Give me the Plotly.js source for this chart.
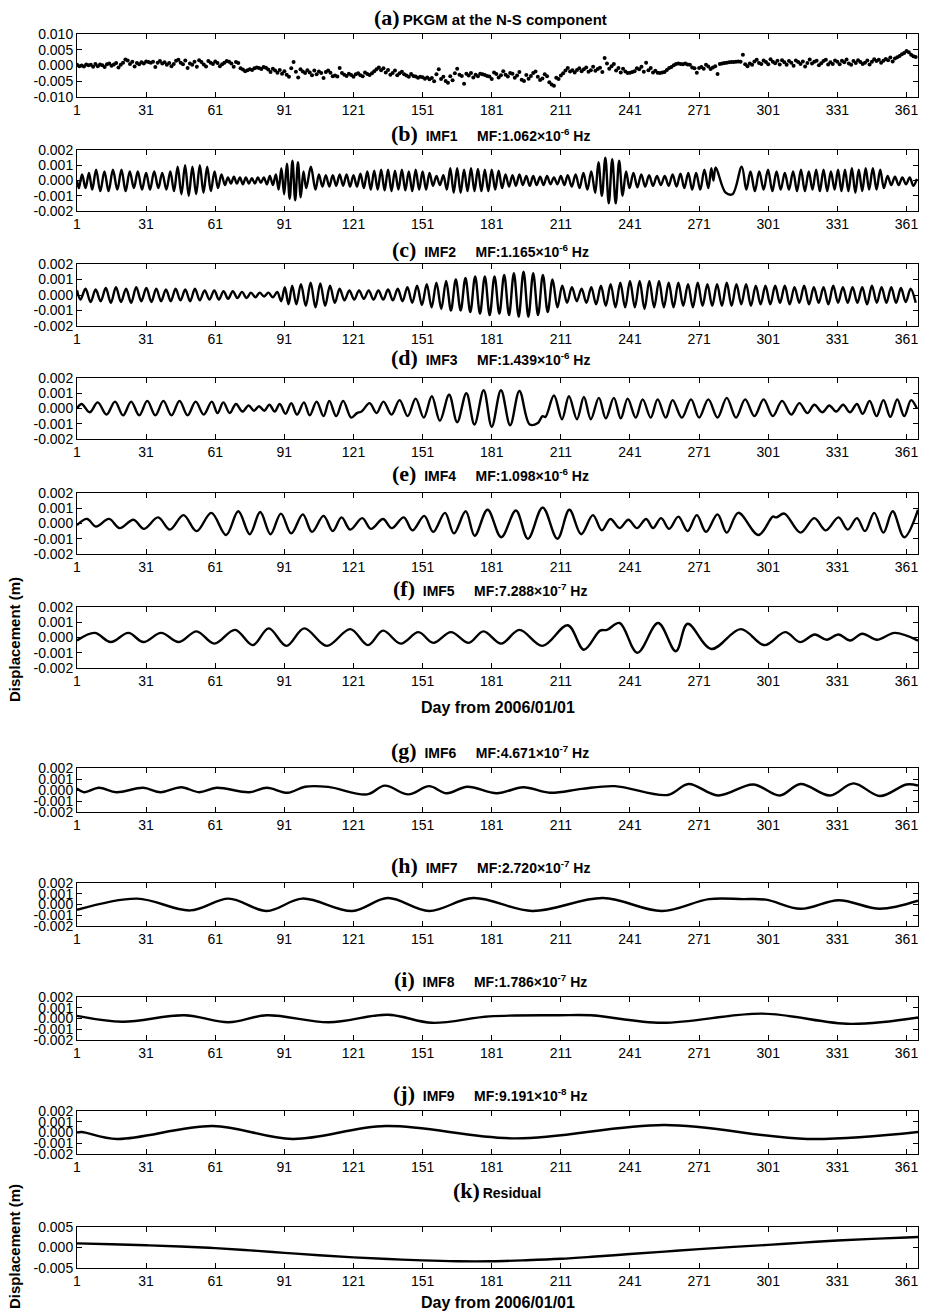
<!DOCTYPE html>
<html><head><meta charset="utf-8">
<script src="https://cdn.plot.ly/plotly-3.0.1.min.js"></script>
<style>html,body{margin:0;padding:0;background:#fff}#chart{width:925px;height:1316px}</style>
</head><body><div id="chart"></div>
<script>
// ---------- tick labels ----------
const xTickVals = [1,31,61,91,121,151,181,211,241,271,301,331,361];
const yTickSmallVals = [-0.002,-0.001,0,0.001,0.002];
const yTickSmallText = ['-0.002','-0.001','0.000','0.001','0.002'];
const yTickAVals = [-0.010,-0.005,0,0.005,0.010];
const yTickAText = ['-0.010','-0.005','0.000','0.005','0.010'];
const yTickKVals = [-0.005,0,0.005];
const yTickKText = ['-0.005','0.000','0.005'];

// ---------- panel titles ----------
const panelLabels = ['(a)','(b)','(c)','(d)','(e)','(f)','(g)','(h)','(i)','(j)','(k)'];
const panelTexts = [
  'PKGM at the N-S component',
  'IMF1     MF:1.062×10<sup>-6</sup> Hz',
  'IMF2     MF:1.165×10<sup>-6</sup> Hz',
  'IMF3     MF:1.439×10<sup>-6</sup> Hz',
  'IMF4     MF:1.098×10<sup>-6</sup> Hz',
  'IMF5     MF:7.288×10<sup>-7</sup> Hz',
  'IMF6     MF:4.671×10<sup>-7</sup> Hz',
  'IMF7     MF:2.720×10<sup>-7</sup> Hz',
  'IMF8     MF:1.786×10<sup>-7</sup> Hz',
  'IMF9     MF:9.191×10<sup>-8</sup> Hz',
  'Residual'
];
const xAxisLabel = 'Day from 2006/01/01';
const yAxisLabel = 'Displacement (m)';

// ---------- data (values in mm, converted to m) ----------
// (a) daily PKGM N-S displacement, day 1..365
const pkgmMm = [
0.2,-0.2,0.0,-0.3,0.3,0.1,0.2,-0.4,0.5,-0.2,0.3,0.1,-0.5,0.4,0.6,-0.1,0.3,0.8,-0.6,0.2,0.9,1.9,1.6,0.5,1.2,-0.3,0.8,0.4,1.0,0.6,
1.3,1.1,0.9,1.2,-0.5,0.9,1.4,0.6,1.0,0.2,0.8,-0.2,0.5,1.5,1.8,0.9,0.4,1.6,-0.8,0.6,0.2,1.2,-0.4,1.7,1.1,0.3,-0.3,1.4,0.9,0.5,
1.3,0.8,-0.2,0.4,0.9,1.4,1.2,0.6,-0.4,1.1,0.8,-0.9,-1.3,-1.8,-1.5,-1.2,-1.4,-0.9,-0.6,-0.8,-1.1,-0.5,-0.7,-1.3,-2.1,-1.0,-1.6,-2.3,-1.4,-2.6,
-1.8,-2.9,-3.6,-0.9,1.1,-2.0,-3.8,-1.2,-1.9,-2.4,-1.5,-2.2,-3.1,-1.6,-2.8,-1.9,-2.4,-4.0,-2.1,-1.6,-2.3,-3.4,-3.2,-3.5,-0.8,-2.4,-2.9,-3.3,-2.6,-3.0,
-3.6,-2.8,-2.5,-3.1,-3.4,-2.2,-2.7,-3.0,-2.5,-1.8,-1.2,-0.6,-1.5,-0.9,-2.2,-1.4,-2.9,-2.4,-1.6,-3.1,-2.5,-2.0,-2.8,-3.2,-3.6,-2.7,-3.3,-3.5,-3.9,-3.6,
-3.7,-4.2,-3.8,-4.4,-4.0,-5.0,-2.8,-1.2,-4.3,-3.6,-4.9,-5.5,-3.4,-4.7,-2.5,-1.0,-2.9,-3.3,-5.8,-2.6,-3.2,-2.4,-3.8,-2.9,-3.4,-2.6,-2.8,-3.0,-3.3,-3.5,
-4.3,-2.2,-2.7,-3.8,-3.1,-1.8,-2.9,-3.5,-2.4,-2.6,-3.9,-3.2,-2.1,-4.5,-4.9,-3.0,-4.2,-3.3,-2.4,-1.9,-3.6,-4.6,-4.1,-2.8,-3.4,-5.3,-6.0,-6.4,-3.9,-4.3,
-3.2,-2.5,-1.6,-0.8,-1.9,-1.5,-2.2,-1.4,-0.9,-1.8,-1.2,-0.6,-2.0,-1.5,-0.4,-1.7,-1.1,-0.7,-2.1,2.4,0.6,-1.0,-0.2,0.5,-1.6,-0.8,-2.2,-1.0,-1.9,-2.4,
-2.3,-2.1,-1.8,-0.9,-1.2,-0.4,-2.0,0.9,-1.5,-0.8,-2.2,-1.7,-2.3,-2.4,-2.2,-2.1,-1.4,-0.8,-0.5,0.1,0.5,0.6,0.5,0.4,0.6,0.3,0.2,-0.6,-0.9,-2.3,
-0.8,-0.5,-1.0,0.2,-0.3,-1.1,-0.6,-0.2,-2.7,0.5,0.6,0.8,0.9,1.0,1.1,1.1,1.2,1.3,1.2,3.4,0.4,-0.2,0.6,0.2,1.3,1.8,0.8,0.5,1.6,1.1,
0.4,2.0,1.2,0.7,1.5,0.3,1.7,1.0,0.2,1.4,0.9,-0.1,1.6,1.1,0.5,1.3,-0.3,0.8,1.9,0.6,1.2,1.5,0.1,0.7,1.4,1.8,0.3,1.0,0.5,1.6,
1.2,0.4,1.5,1.0,1.9,0.6,0.2,1.4,0.8,1.7,1.1,0.5,0.9,1.6,0.3,1.2,2.0,1.4,1.8,0.9,1.5,2.1,1.7,2.5,1.3,2.2,2.6,3.0,3.6,4.0,4.6,4.2,3.4,2.9,2.7
];

// IMF extrema: [day, mm]
const imf1 = [[1,0.0],[1.8,-0.5],[3.2,0.4],[4.7,-0.5],[6.2,0.5],[7.6,-0.6],[9.3,0.7],[11.1,-0.7],[12.9,0.6],[14.7,-0.7],[16.6,0.7],[18.5,-0.6],[20.3,0.7],[22.1,-0.7],[23.9,0.6],[25.7,-0.5],[27.4,0.6],[29.2,-0.6],[31.0,0.5],[32.7,-0.6],[34.5,0.6],[36.3,-0.5],[38.0,0.5],[39.8,-0.6],[41.5,0.6],[43.1,-0.7],[44.7,0.9],[46.3,-0.9],[47.9,1.0],[49.5,-1.0],[51.1,0.9],[52.7,-0.9],[54.3,1.0],[55.9,-0.8],[57.5,0.9],[59.1,-0.7],[60.7,0.6],[62.2,-0.5],[63.7,0.4],[65.2,-0.3],[66.5,0.2],[67.8,-0.2],[69.1,0.25],[70.4,-0.2],[71.7,0.2],[73.0,-0.25],[74.3,0.2],[75.6,-0.2],[76.9,0.15],[78.2,-0.2],[79.5,0.2],[80.8,-0.15],[82.1,0.2],[83.4,-0.25],[84.7,0.3],[86.0,-0.3],[87.3,0.4],[88.5,-0.6],[89.7,0.8],[90.9,-0.9],[92.1,1.1],[93.3,-1.2],[94.5,1.3],[95.7,-1.3],[96.9,1.2],[98.1,-1.1],[99.3,0.6],[100.5,-0.5],[102.5,0.9],[104.5,-0.6],
[106.0,0.4],[107.5,-0.4],[109.0,0.35],[110.5,-0.4],[112.0,0.35],[113.5,-0.35],[115.0,0.4],[116.5,-0.35],[118.0,0.4],[119.5,-0.4],[121.0,0.35],[122.5,-0.4],[124.0,0.45],[125.5,-0.5],[127.0,0.6],[128.5,-0.6],[130.0,0.65],[131.5,-0.6],[133.0,0.7],[134.5,-0.65],[136.0,0.7],[137.5,-0.7],[139.0,0.65],[140.5,-0.6],[142.0,0.7],[143.5,-0.65],[145.0,0.6],[146.5,-0.7],[148.0,0.7],[149.5,-0.6],[151.0,0.6],[152.5,-0.6],[154.0,0.5],[155.5,-0.35],[157.0,0.3],[158.5,-0.3],[160.0,0.35],[161.5,-0.6],[163.0,0.8],[164.5,-0.8],[166.0,0.8],[167.5,-0.8],[169.0,0.7],[170.5,-0.7],[172.0,0.8],[173.5,-0.7],[175.0,0.75],[176.5,-0.7],[178.0,0.7],[179.5,-0.7],[181.0,0.7],[182.5,-0.6],[184.0,0.65],[185.5,-0.5],
[187.0,0.4],[188.5,-0.4],[190.0,0.35],[191.5,-0.35],[193.0,0.4],[194.5,-0.3],[196.0,0.3],[197.5,-0.35],[199.0,0.3],[200.5,-0.3],[202.0,0.25],[203.5,-0.3],[205.0,0.3],[206.5,-0.25],[208.0,0.2],[209.5,-0.25],[211.0,0.3],[212.5,-0.3],[214.0,0.35],[215.7,-0.4],[217.4,0.4],[219.1,-0.5],[220.8,0.5],[222.5,-0.6],[224.2,0.6],[225.9,-0.8],[227.3,1.2],[228.8,-1.0],[230.3,1.5],[231.8,-1.5],[233.3,1.4],[234.8,-1.5],[236.3,1.3],[237.8,-1.0],[239.3,0.6],[240.8,-0.5],[242.5,0.5],[244.2,-0.45],[245.9,0.4],[247.6,-0.4],[249.3,0.35],[251.0,-0.35],[252.7,0.3],[254.4,-0.3],[256.1,0.3],[257.8,-0.35],[259.5,0.4],[261.2,-0.4],[262.9,0.45],[264.6,-0.5],[266.3,0.5],[268.0,-0.6],
[269.7,0.5],[271.5,-0.6],[273.3,0.7],[275.0,-0.5],[276.3,0.8],[277.2,0.0],[278.2,0.85],[282.5,-0.8],[285.5,-0.9],[289.5,0.9],[291.5,-0.6],[293.3,0.6],[295.2,-0.7],[297.1,0.6],[299.0,-0.6],[300.9,0.7],[302.8,-0.7],[304.6,0.6],[306.4,-0.6],[308.2,0.5],[310.0,-0.6],[311.8,0.6],[313.5,-0.7],[315.2,0.7],[316.9,-0.7],[318.6,0.6],[320.2,-0.6],[321.8,0.7],[323.4,-0.7],[325.0,0.7],[326.6,-0.7],[328.2,0.6],[329.8,-0.6],[331.3,0.7],[332.8,-0.7],[334.3,0.7],[335.8,-0.7],[337.3,0.8],[338.8,-0.8],[340.3,0.7],[341.8,-0.7],[343.3,0.8],[344.8,-0.6],[346.4,0.8],[348.0,-0.6],[349.6,0.7],[351.2,-0.5],[352.8,0.3],[354.4,-0.3],[356.0,0.25],[357.6,-0.3],[359.2,0.2],[360.8,-0.25],[362.4,0.2],[364.0,-0.35],[365.5,0.1]];

const imf2 = [[1,0.3],[2.5,-0.3],[4.7,0.4],[6.9,-0.45],[9.1,0.35],[11.3,-0.4],[13.5,0.45],[15.7,-0.5],[17.9,0.5],[20.1,-0.45],[22.3,0.4],[24.5,-0.5],[26.7,0.5],[28.9,-0.4],[31.1,0.45],[33.3,-0.45],[35.4,0.4],[37.5,-0.4],[39.6,0.35],[41.7,-0.4],[43.8,0.4],[45.9,-0.35],[48.0,0.35],[50.1,-0.4],[52.2,0.4],[54.3,-0.35],[56.4,0.3],[58.5,-0.3],[60.6,0.3],[62.6,-0.3],[64.6,0.25],[66.6,-0.25],[68.6,0.25],[70.6,-0.2],[72.6,0.2],[74.6,-0.2],[76.5,0.15],[78.4,-0.15],[80.3,0.15],[82.2,-0.1],[84.1,0.15],[86.0,-0.15],[87.9,0.2],[89.6,-0.4],[91.2,0.5],[92.8,-0.6],[94.4,0.6],[96.2,-0.6],[98.2,0.7],[100.3,-0.7],[102.4,0.8],[104.5,-0.8],[106.6,0.75],[108.7,-0.7],[110.8,0.6],[112.9,-0.5],[115.0,0.4],[117.1,-0.35],[119.2,0.3],[121.3,-0.3],[123.4,0.3],[125.5,-0.25],[127.6,0.3],[129.7,-0.3],[131.8,0.3],[133.9,-0.3],[136.0,0.35],[138.1,-0.35],[140.2,0.4],[142.3,-0.4],[144.4,0.5],[146.5,-0.5],[148.6,0.6],[150.7,-0.65],[152.8,0.7],[154.9,-0.8],[157.0,0.8],[159.1,-0.9],[161.2,0.9],[163.3,-1.0],[165.4,1.0],[167.5,-1.0],[169.6,1.1],[171.7,-1.1],[173.8,1.2],[175.9,-1.2],[178.0,1.2],[180.1,-1.3],[182.2,1.2],[184.3,-1.2],[186.4,1.3],[188.5,-1.3],[190.6,1.4],[192.7,-1.4],[194.8,1.5],[196.9,-1.4],[199.0,1.4],[201.1,-1.3],[203.2,1.3],[205.3,-1.1],[207.4,1.0],[209.5,-0.8],[211.6,0.6],[213.7,-0.5],[215.8,0.5],[217.9,-0.4],[220.0,0.4],[222.1,-0.5],[224.2,0.5],[226.3,-0.6],[228.4,0.6],[230.5,-0.7],[232.6,0.7],[234.7,-0.8],[236.8,0.8],[238.9,-0.8],[241.0,0.9],[243.1,-0.8],[245.2,0.9],[247.3,-0.9],[249.4,0.9],[251.5,-0.8],[253.6,0.9],[255.7,-0.8],[257.8,0.8],[259.9,-0.8],[262.0,0.8],[264.1,-0.7],[266.2,0.7],[268.3,-0.8],[270.4,0.8],[272.5,-0.7],[274.6,0.7],[276.7,-0.7],[278.8,0.7],[280.9,-0.7],[283.0,0.8],[285.1,-0.7],[287.2,0.7],[289.3,-0.6],[291.4,0.7],[293.5,-0.7],[295.6,0.6],[297.7,-0.6],[299.8,0.6],[301.9,-0.6],[304.0,0.6],[306.1,-0.5],[308.2,0.6],[310.3,-0.6],[312.4,0.5],[314.5,-0.5],[316.6,0.6],[318.7,-0.6],[320.8,0.5],[322.9,-0.5],[325.0,0.5],[327.1,-0.6],[329.2,0.6],[331.3,-0.5],[333.4,0.5],[335.5,-0.5],[337.6,0.5],[339.7,-0.5],[341.8,0.5],[343.9,-0.6],[346.0,0.6],[348.1,-0.5],[350.2,0.5],[352.3,-0.5],[354.4,0.5],[356.5,-0.5],[358.6,0.45],[360.7,-0.45],[362.8,0.4],[365,-0.5]];

const imf3 = [[1,0.0],[3,0.3],[6.5,-0.25],[10,0.4],[13.8,-0.4],[17.5,0.45],[21,-0.45],[24.5,0.45],[28,-0.45],[31.5,0.5],[35,-0.45],[38.5,0.5],[42,-0.45],[45.5,0.5],[49,-0.45],[52.5,0.45],[56,-0.4],[59.5,0.45],[62,-0.3],[64.5,0.4],[67.3,-0.3],[70,0.3],[72.8,-0.2],[75.5,0.2],[77.8,-0.15],[80,0.15],[82.3,-0.15],[84.5,0.25],[86.8,-0.2],[89,0.3],[91.5,-0.35],[94,0.35],[96.5,-0.4],[99.5,0.4],[102,-0.45],[105,0.45],[108,-0.5],[110.5,0.5],[113.5,-0.5],[116.5,0.5],[120,-0.6],[122.5,-0.3],[124.5,-0.2],[128,0.35],[131,-0.3],[134,0.45],[137.5,-0.4],[141,0.55],[144.5,-0.5],[148,0.65],[151.5,-0.6],[155,0.8],[158.5,-0.8],[162.5,0.9],[166,-0.9],[170,1.0],[173.5,-1.05],[177.5,1.2],[181,-1.2],[185,1.2],[189,-1.1],[193,1.15],[197.5,-1.05],[201,-0.95],[203,-0.5],[204.3,-0.55],[208,0.85],[211.5,-0.7],[214.5,0.8],[218,-0.7],[221,0.75],[224,-0.7],[227.5,0.7],[230.5,-0.65],[234,0.7],[237,-0.65],[240,0.65],[243.5,-0.6],[246.5,0.6],[250,-0.6],[253,0.6],[256.5,-0.6],[259.5,0.55],[263.5,-0.6],[267.5,0.6],[271,-0.6],[275,0.6],[279,-0.6],[283,0.7],[287,-0.6],[291,0.6],[295,-0.5],[299,0.6],[303,-0.5],[307,0.5],[311,-0.4],[314.5,0.35],[318,-0.3],[321,0.25],[324.5,-0.25],[327.5,0.2],[330.5,-0.2],[333.5,0.25],[336.5,-0.25],[339.5,0.3],[342,-0.35],[345,0.5],[348,-0.5],[351,0.55],[354,-0.55],[357,0.6],[360,-0.5],[363,0.55],[365.5,0.0]];

const imf4 = [[1,-0.1],[5.4,0.3],[9.2,-0.2],[14.9,0.3],[19.5,-0.3],[25.5,0.25],[30,-0.35],[36.2,0.4],[41.3,-0.4],[47.2,0.55],[52.9,-0.5],[59.3,0.7],[65.7,-0.75],[71,0.8],[76,-0.7],[80.5,0.75],[85,-0.7],[89.5,0.65],[94,-0.65],[99,0.6],[103,-0.55],[108,0.5],[112,-0.5],[115.8,0.4],[119.6,-0.4],[124.8,0.35],[128.6,-0.35],[133.8,0.3],[137.6,-0.3],[142.8,0.4],[146.6,-0.45],[151.7,0.5],[155.6,-0.55],[160.7,0.7],[164.6,-0.65],[169.7,0.8],[173.6,-0.8],[179.2,0.9],[185.1,-0.9],[191.5,0.85],[196.7,-1.0],[203.1,1.05],[209.5,-1.0],[214.7,0.9],[219.8,-0.7],[224.9,0.55],[228.8,-0.45],[232.5,0.3],[236.5,-0.3],[240.3,0.25],[244,-0.3],[248,0.3],[251,-0.3],[254.5,0.35],[258,-0.35],[262,0.45],[266,-0.5],[270,0.55],[274,-0.55],[279,0.6],[283,-0.6],[288,0.7],[296.8,-0.75],[303,0.45],[304.5,0.4],[308,0.65],[315,-0.6],[321,0.35],[326,-0.45],[331.5,0.4],[335.5,-0.4],[339.5,0.35],[343,-0.5],[347,0.7],[351,-0.6],[355,0.8],[360,-0.9],[366,0.9]];

const imf5 = [[1,-0.2],[8.7,0.3],[15.6,-0.3],[23.3,0.3],[29.8,-0.3],[37.5,0.3],[45.2,-0.3],[52.9,0.4],[60.6,-0.4],[69.6,0.5],[77.3,-0.5],[84.2,0.6],[91.9,-0.55],[99.6,0.6],[109.4,-0.55],[119.6,0.55],[127.3,-0.5],[133.8,0.45],[141.5,-0.4],[149.2,0.35],[155.6,-0.35],[163.3,0.35],[171,-0.35],[177.4,0.4],[185.1,-0.4],[193,0.5],[203,-0.55],[214,0.8],[221,-0.8],[228,0.45],[231,0.5],[236.5,0.95],[244.2,-1.0],[253.2,0.95],[260.9,-0.9],[266,0.9],[276.3,-0.75],[289.1,0.55],[299.4,-0.5],[308.4,0.35],[314.8,-0.3],[321.2,0.2],[326.4,-0.15],[331.5,0.2],[336.6,-0.2],[341.8,0.25],[348.2,-0.15],[355.9,0.3],[366,-0.2]];

const imf6 = [[1,0.15],[4.1,-0.2],[10.5,0.2],[18.1,-0.2],[29.7,0.2],[37.3,-0.2],[46.3,0.25],[54,-0.2],[61.6,0.2],[75.7,-0.2],[83.4,0.2],[92.4,-0.25],[100,0.3],[110,0.28],[126.9,-0.4],[134.6,0.4],[144.8,-0.4],[153.8,0.35],[161.4,-0.3],[170.4,0.3],[183.2,-0.3],[194.7,0.25],[206.2,-0.25],[220,0.1],[234.4,0.35],[257.4,-0.45],[266.4,0.55],[279.2,-0.5],[294.5,0.5],[306,-0.5],[315,0.55],[327.8,-0.5],[338,0.6],[349.5,-0.55],[361,0.5],[366,0.4]];

const imf7 = [[1,-0.5],[27.1,0.55],[50.1,-0.55],[66.8,0.55],[83.4,-0.6],[98.8,0.55],[120.5,-0.6],[135.9,0.6],[153.8,-0.6],[173,0.6],[198.6,-0.6],[229.3,0.6],[254.8,-0.6],[275.3,0.5],[290,0.5],[300,0.45],[315,-0.4],[331.6,0.4],[349.5,-0.4],[366,0.35]];

const imf8 = [[1,0.25],[20.7,-0.3],[47.6,0.3],[66.8,-0.35],[83.4,0.3],[110.3,-0.35],[135.9,0.35],[155.1,-0.4],[180,0.2],[210,0.3],[224,0.3],[254.8,-0.4],[298.4,0.45],[336.7,-0.5],[366,0.1]];

const imf9 = [[1,0.0],[3,0.05],[18.3,-0.6],[59.9,0.6],[94.6,-0.6],[135,0.6],[191.5,-0.55],[256,0.7],[318,-0.6],[366,0.05]];

const residual = [[1,1.0],[16,0.8],[31,0.55],[46,0.25],[61,-0.15],[76,-0.7],[91,-1.3],[106,-1.9],[121,-2.4],[136,-2.8],[151,-3.15],[166,-3.35],[181,-3.35],[196,-3.1],[211,-2.75],[226,-2.2],[241,-1.6],[256,-1.0],[271,-0.4],[286,0.15],[301,0.65],[316,1.2],[331,1.7],[346,2.1],[361,2.45],[366,2.55]];

// ---------- geometry (pixels) ----------
const W = 925, H = 1316;
const plotLeft = 77, plotRight = 918;
const boxes = [[34,97],[150,211],[264,326],[378,439],[493,554],[607,668],[768,812],[883,926],[997,1040],[1111,1154],[1227,1268]];
const titleY = [17,133,249,358,473,588,750,865,979,1093,1190];

const lineSeries = [imf1, imf2, imf3, imf4, imf5, imf6, imf7, imf8, imf9, residual];
const toM = v => v / 1000;

const traces = [];
const layout = {
  width: W, height: H,
  margin: {l:0, r:0, t:0, b:0},
  paper_bgcolor: '#fff', plot_bgcolor: '#fff',
  showlegend: false,
  font: {family: 'Liberation Sans, Arial, sans-serif', color: '#000', size: 14},
  annotations: []
};

function ax(i){ return i === 0 ? '' : String(i+1); }

for (let i = 0; i < 11; i++) {
  const [top, bot] = boxes[i];
  const xa = 'xaxis' + ax(i), ya = 'yaxis' + ax(i);
  layout[xa] = {
    domain: [plotLeft/W, plotRight/W],
    anchor: 'y' + ax(i),
    range: [1, 366],
    tickmode: 'array', tickvals: xTickVals, ticktext: xTickVals.map(String),
    ticks: 'inside', ticklen: 5, tickwidth: 1, tickcolor: '#000',
    showline: true, linecolor: '#000', linewidth: 1, mirror: 'ticks',
    showgrid: false, zeroline: false,
    tickfont: {family: 'Liberation Sans, Arial, sans-serif', size: 14, color: '#000'},
    ticklabelstandoff: 0
  };
  let yv = yTickSmallVals, yt = yTickSmallText, yr = [-0.002, 0.002];
  if (i === 0) { yv = yTickAVals; yt = yTickAText; yr = [-0.010, 0.010]; }
  if (i === 10) { yv = yTickKVals; yt = yTickKText; yr = [-0.005, 0.005]; }
  layout[ya] = {
    domain: [1 - bot/H, 1 - top/H],
    anchor: 'x' + ax(i),
    range: yr,
    tickmode: 'array', tickvals: yv, ticktext: yt,
    ticks: 'inside', ticklen: 5, tickwidth: 1, tickcolor: '#000',
    showline: true, linecolor: '#000', linewidth: 1, mirror: 'ticks',
    showgrid: false, zeroline: false,
    tickfont: {family: 'Liberation Sans, Arial, sans-serif', size: 14, color: '#000'},
    ticklabelstandoff: 0
  };
  if (i === 0) {
    traces.push({
      type: 'scatter', mode: 'markers',
      x: pkgmMm.map((_, k) => k + 1), y: pkgmMm.map(toM),
      marker: {color: '#000', size: 4},
      xaxis: 'x' + ax(i), yaxis: 'y' + ax(i), hoverinfo: 'skip'
    });
  } else {
    const s = lineSeries[i-1];
    traces.push({
      type: 'scatter', mode: 'lines',
      x: s.map(p => p[0]), y: s.map(p => toM(p[1])),
      line: {color: '#000', width: 2.4, shape: 'spline', smoothing: 1},
      xaxis: 'x' + ax(i), yaxis: 'y' + ax(i), hoverinfo: 'skip'
    });
  }
  // panel title
  const isA = i === 0, isK = i === 10;
  const sep = (isA || isK) ? '\u2009' : '\u00A0\u00A0';
  const body = panelTexts[i].replace(/ /g, '\u00A0');
  layout.annotations.push({
    xref: 'paper', yref: 'paper', x: (isK ? 497 : 490)/W, y: 1 - titleY[i]/H,
    xanchor: 'center', yanchor: 'middle', showarrow: false,
    text: '<span style="font-family:Liberation Serif,Times New Roman,serif;font-size:22px"><b>' + panelLabels[i] + '</b></span>' + sep +
          '<b>' + body + '</b>',
    font: {family: 'Liberation Sans, Arial, sans-serif', size: isA ? 15 : 14, color: '#000'}
  });
}

// axis labels
[[707],[1302]].forEach(([py]) => {
  layout.annotations.push({xref:'paper', yref:'paper', x: 498/W, y: 1 - py/H, xanchor:'center', yanchor:'middle',
    showarrow:false, text:'<b>' + xAxisLabel + '</b>', font:{family:'Liberation Sans, Arial, sans-serif', size:16, color:'#000'}});
});
[[640],[1247]].forEach(([py]) => {
  layout.annotations.push({xref:'paper', yref:'paper', x: 14/W, y: 1 - py/H, xanchor:'center', yanchor:'middle',
    showarrow:false, textangle:-90, text:'<b>' + yAxisLabel + '</b>', font:{family:'Liberation Sans, Arial, sans-serif', size:15, color:'#000'}});
});

Plotly.newPlot('chart', traces, layout, {staticPlot: true, displayModeBar: false});
</script>
</body></html>
